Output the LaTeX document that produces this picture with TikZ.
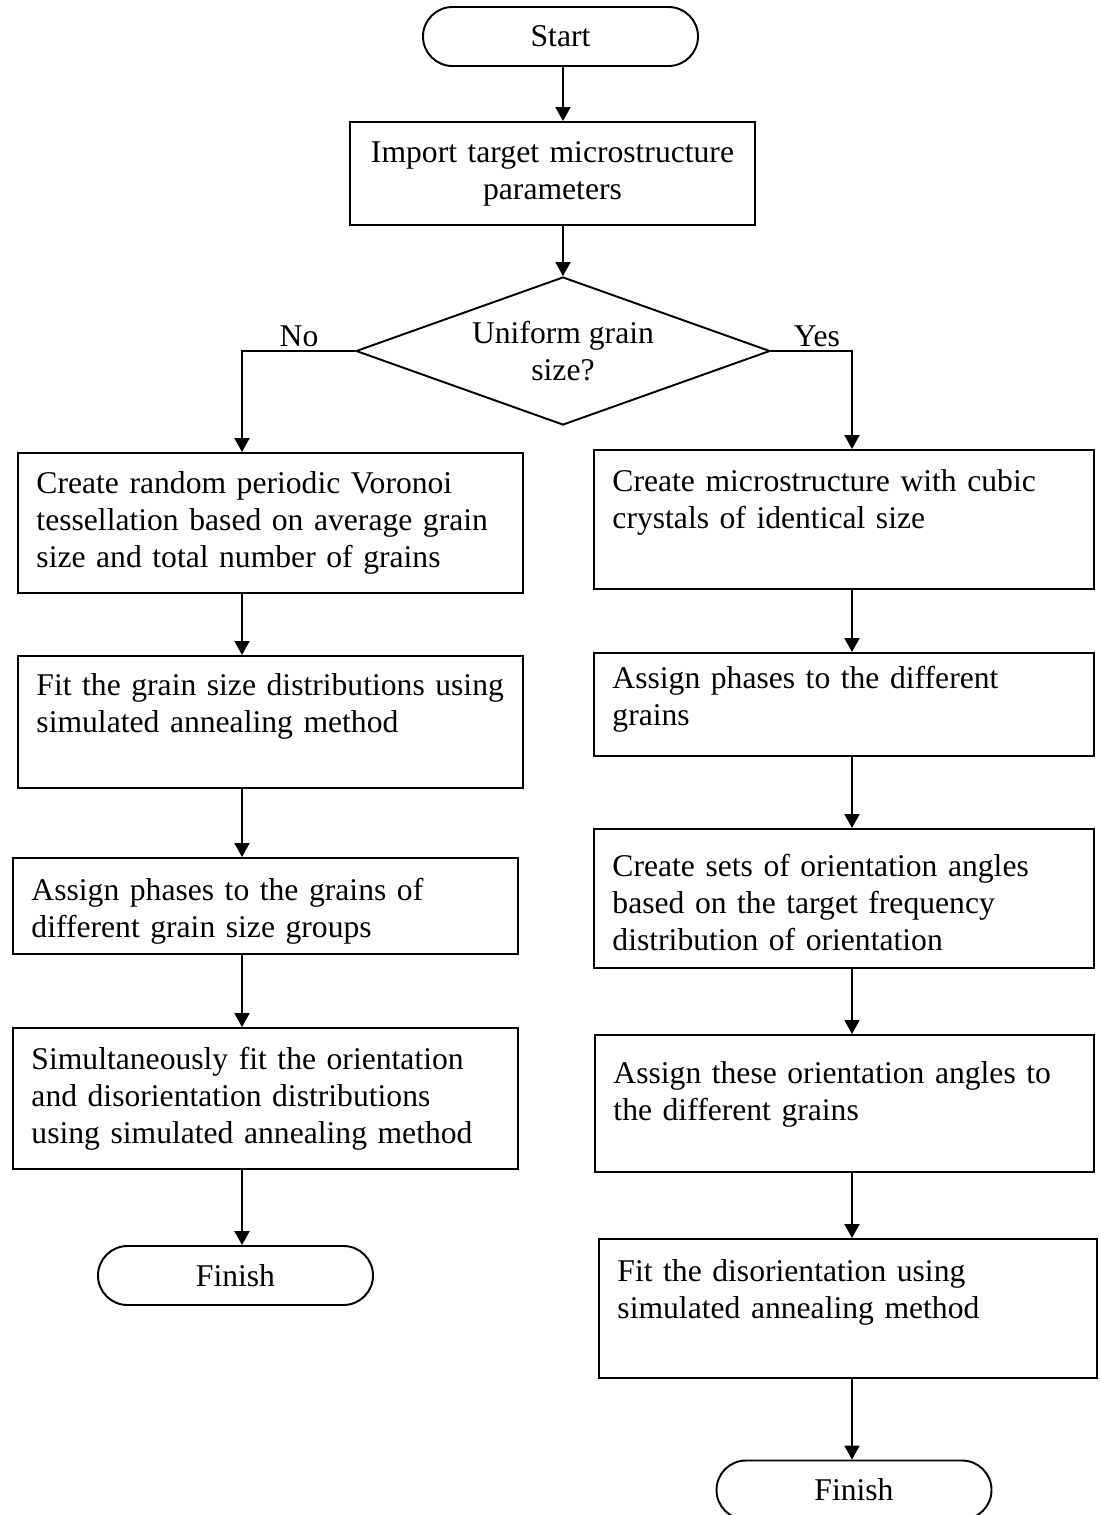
\documentclass[tikz,border=0pt]{standalone}
\usepackage{fontspec}
\setmainfont{Liberation Serif}
\usepackage{tikz}
\usetikzlibrary{shapes.geometric,arrows.meta}
\tikzstyle{terminal} = [rectangle, rounded corners=0.59cm, minimum width=5.5cm, minimum height=1.18cm, draw=black, line width=1.1pt]
\tikzstyle{process} = [rectangle, minimum width=8.1cm, minimum height=2.06cm, text centered, text
width=7.8cm, draw=black, line width=1.1pt]
\tikzstyle{steps} = [rectangle, anchor=north west, text width=9.36cm, inner xsep=0.37cm, inner ysep=0pt, align=left, draw=black, line width=1.1pt]
\tikzstyle{decision} = [diamond, aspect=2.8, minimum width=8.28cm, minimum height=2.96cm, inner sep=0pt, align=center, draw=black, line width=1.1pt]
\tikzstyle{arrow} = [line width=1.1pt, ->, >={Triangle[length=0.28cm,width=0.3cm]}]

\begin{document}
\begin{tikzpicture}[font=\fontsize{18}{21}\selectfont]
        \useasboundingbox (0,0) rectangle (22,-30.3);

        \draw (11.21,-0.73) node[terminal] (start) {Start};
        \draw (11.05,-3.47) node[process] (import) {Import target microstructure\\parameters};
        \draw (11.26,-7.02) node[decision] (dec) {Uniform grain\\size?};
        \draw (5.98,-6.72) node (no) {No};
        \draw (16.34,-6.72) node (yes) {Yes};

        % No branch
        \draw (0.34,-9.04) node[steps, text height=0.82cm, text depth=1.98cm] (l1)
        {Create random periodic Voronoi\\tessellation based on average grain\\size and total number of grains};
        \draw (0.34,-13.1) node[steps, text height=0.8cm, text depth=1.84cm] (l2)
        {Fit the grain size distributions using\\simulated annealing method};
        \draw (0.24,-17.14) node[steps, text height=0.86cm, text depth=1.06cm] (l3)
        {Assign phases to the grains of\\different grain size groups};
        \draw (0.24,-20.54) node[steps, text height=0.84cm, text depth=1.98cm] (l4)
        {Simultaneously fit the orientation\\and disorientation distributions\\using simulated annealing method};
        \draw (4.71,-25.51) node[terminal] (lend) {Finish};

        % Yes branch
        \draw (11.86,-8.98) node[steps, text width=9.26cm, text height=0.84cm, text depth=1.94cm] (r1)
        {Create microstructure with cubic\\crystals of identical size};
        \draw (11.86,-13.04) node[steps, text width=9.26cm, text height=0.72cm, text depth=1.34cm] (r2)
        {Assign phases to the different\\grains};
        \draw (11.86,-16.56) node[steps, text width=9.26cm, text height=0.96cm, text depth=1.82cm] (r3)
        {Create sets of orientation angles\\based on the target frequency\\distribution of orientation};
        \draw (11.88,-20.68) node[steps, text width=9.24cm, text height=0.98cm, text depth=1.76cm] (r4)
        {Assign these orientation angles to\\the different grains};
        \draw (11.96,-24.76) node[steps, text width=9.22cm, text height=0.86cm, text depth=1.92cm] (r5)
        {Fit the disorientation using\\simulated annealing method};
        \draw (17.08,-29.8) node[terminal] (rend) {Finish};

        % Arrows
        \coordinate (mx) at (11.26,0);
        \coordinate (lx) at (4.84,0);
        \coordinate (rx) at (17.04,0);
        \draw[arrow] (start.south -| mx) -- (import.north -| mx);
        \draw[arrow] (import.south -| mx) -- (dec.north);
        \draw[arrow] (dec.west) -| (l1.north -| lx);
        \draw[arrow] (dec.east) -| (r1.north -| rx);

        \draw[arrow] (l1.south -| lx) -- (l2.north -| lx);
        \draw[arrow] (l2.south -| lx) -- (l3.north -| lx);
        \draw[arrow] (l3.south -| lx) -- (l4.north -| lx);
        \draw[arrow] (l4.south -| lx) -- (lend.north -| lx);

        \draw[arrow] (r1.south -| rx) -- (r2.north -| rx);
        \draw[arrow] (r2.south -| rx) -- (r3.north -| rx);
        \draw[arrow] (r3.south -| rx) -- (r4.north -| rx);
        \draw[arrow] (r4.south -| rx) -- (r5.north -| rx);
        \draw[arrow] (r5.south -| rx) -- (rend.north -| rx);
    \end{tikzpicture}
\end{document}
